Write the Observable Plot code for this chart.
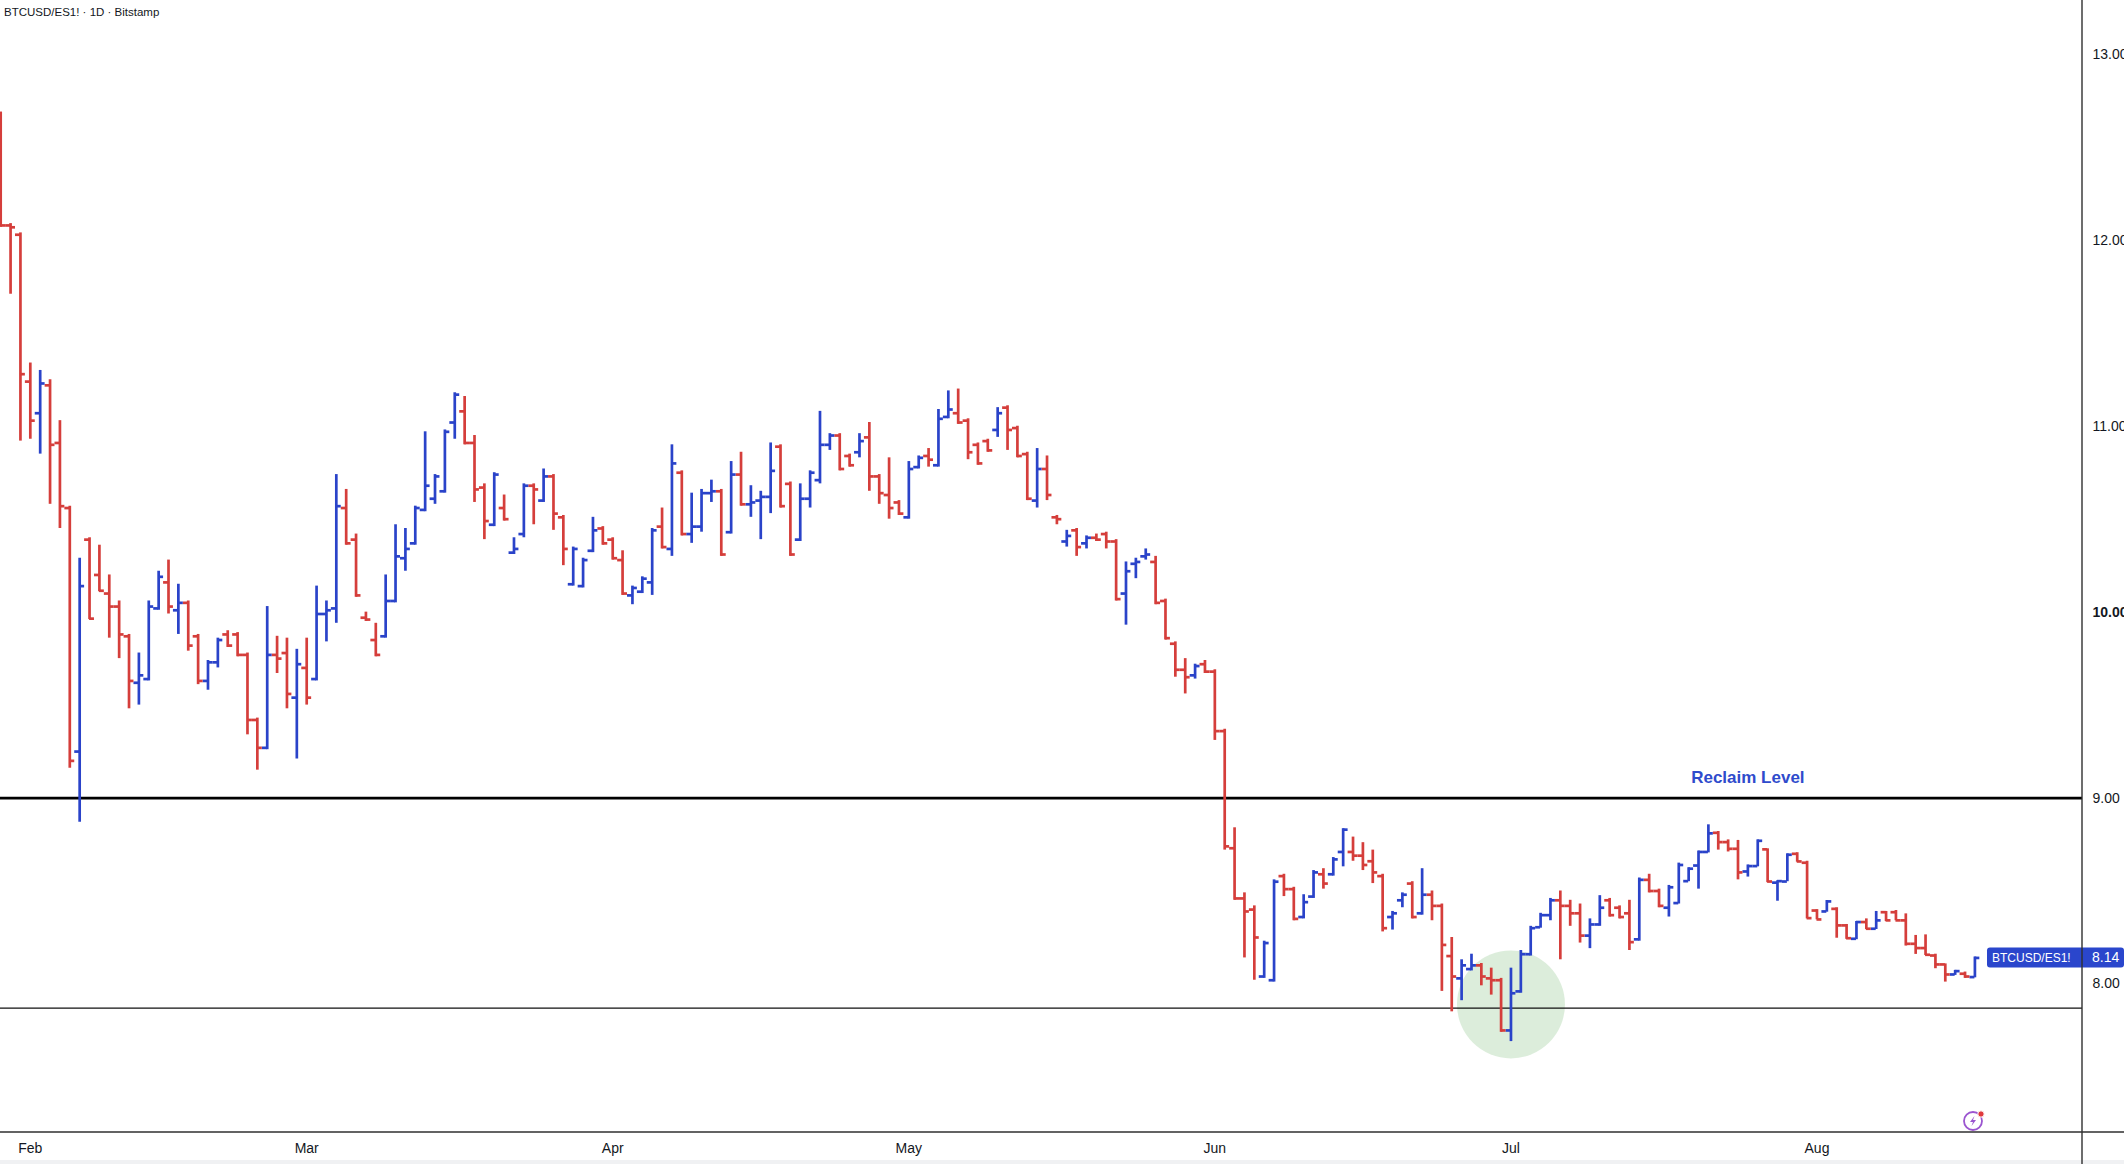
<!DOCTYPE html>
<html>
<head>
<meta charset="utf-8">
<script src="https://cdn.jsdelivr.net/npm/d3@7"></script>
<script src="https://cdn.jsdelivr.net/npm/@observablehq/plot@0.6"></script>
<style>
  html, body { margin: 0; padding: 0; background: #ffffff; }
  #wrap { position: relative; width: 2124px; height: 1164px; overflow: hidden; }
  #title { position: absolute; left: 4px; top: 6px; font: 11.5px "Liberation Sans", Arial, sans-serif; color: #131722; }
</style>
</head>
<body>
<div id="wrap">
  <div id="chart"></div>
  <div id="title">BTCUSD/ES1! · 1D · Bitstamp</div>
</div>
<script>
// ---- data (daily bars starting 29 Jan) ----
const firstBarDate = "2025-01-29";
const openValues = [
12.65,12.08,12.03,11.24,11.07,11.22,10.91,10.56,9.25,10.39,10.20,10.10,10.03,9.87,9.62,9.64,10.02,10.16,10.01,10.05,
9.87,9.63,9.73,9.88,9.88,9.77,9.42,9.27,9.77,9.78,9.54,9.70,9.64,9.99,10.02,10.56,10.39,9.97,9.85,9.87,
10.06,10.29,10.37,10.55,10.61,10.65,11.02,11.08,10.91,10.67,10.47,10.56,10.32,10.42,10.68,10.60,10.73,10.51,10.15,10.14,
10.33,10.45,10.39,10.28,10.09,10.11,10.16,10.46,10.34,10.75,10.42,10.46,10.64,10.65,10.43,10.74,10.58,10.60,10.62,10.89,
10.69,10.39,10.61,10.71,10.90,10.95,10.84,10.86,10.94,10.73,10.63,10.59,10.51,10.78,10.84,10.79,11.05,11.07,11.03,10.90,
10.92,10.98,11.10,10.99,10.85,10.60,10.77,10.51,10.38,10.44,10.37,10.40,10.42,10.38,10.10,10.26,10.30,10.27,10.06,9.83,
9.69,9.66,9.72,9.68,9.36,8.73,8.46,8.40,8.04,8.02,8.58,8.51,8.36,8.47,8.59,8.59,8.71,8.71,8.69,8.66,
8.58,8.36,8.45,8.54,8.38,8.48,8.42,8.15,8.03,8.08,8.10,8.03,8.02,7.75,7.96,8.16,8.305,8.37,8.45,8.42,
8.38,8.26,8.32,8.45,8.41,8.38,8.24,8.56,8.50,8.41,8.435,8.553,8.637,8.71,8.813,8.763,8.727,8.605,8.634,8.724,
8.545,8.551,8.70,8.652,8.395,8.39,8.404,8.315,8.243,8.333,8.297,8.386,8.386,8.342,8.216,8.193,8.153,8.105,8.051,8.055,
8.037];
const highValues = [
12.69,12.09,12.04,11.34,11.30,11.25,11.03,10.57,10.29,10.40,10.36,10.20,10.06,9.88,9.78,10.06,10.22,10.28,10.15,10.06,
9.88,9.74,9.86,9.90,9.89,9.78,9.43,10.03,9.87,9.86,9.80,9.86,10.14,10.06,10.74,10.66,10.42,10.00,9.94,10.20,
10.47,10.45,10.57,10.97,10.74,10.98,11.18,11.16,10.95,10.69,10.75,10.63,10.40,10.69,10.69,10.77,10.74,10.52,10.35,10.29,
10.51,10.46,10.40,10.33,10.14,10.19,10.45,10.56,10.90,10.76,10.64,10.66,10.71,10.66,10.81,10.86,10.68,10.65,10.91,10.90,
10.70,10.69,10.76,11.08,10.96,10.96,10.85,10.96,11.02,10.74,10.83,10.60,10.81,10.84,10.88,11.09,11.19,11.20,11.04,10.91,
10.93,11.10,11.11,11.00,10.86,10.88,10.84,10.52,10.44,10.45,10.41,10.42,10.43,10.39,10.27,10.29,10.34,10.30,10.07,9.84,
9.75,9.72,9.74,9.69,9.37,8.84,8.49,8.42,8.23,8.56,8.59,8.52,8.48,8.61,8.62,8.68,8.835,8.79,8.76,8.72,
8.59,8.39,8.49,8.55,8.62,8.50,8.43,8.25,8.13,8.16,8.11,8.085,8.03,8.085,8.18,8.31,8.38,8.46,8.50,8.45,
8.43,8.35,8.475,8.46,8.42,8.45,8.57,8.59,8.51,8.53,8.65,8.625,8.715,8.856,8.82,8.775,8.772,8.64,8.775,8.727,
8.555,8.70,8.706,8.66,8.40,8.449,8.41,8.32,8.336,8.35,8.39,8.39,8.395,8.377,8.261,8.264,8.16,8.108,8.073,8.064,
8.145];
const lowValues = [
12.07,11.71,10.92,10.93,10.85,10.58,10.45,9.16,8.87,9.96,10.11,9.86,9.75,9.48,9.50,9.63,10.01,9.99,9.88,9.79,
9.61,9.58,9.70,9.81,9.76,9.34,9.15,9.26,9.67,9.48,9.21,9.50,9.63,9.84,9.94,10.36,10.08,9.95,9.76,9.86,
10.05,10.22,10.36,10.54,10.58,10.64,10.93,10.90,10.59,10.39,10.46,10.49,10.31,10.40,10.47,10.59,10.44,10.25,10.14,10.13,
10.32,10.36,10.28,10.09,10.04,10.10,10.09,10.34,10.30,10.41,10.37,10.43,10.59,10.30,10.42,10.57,10.51,10.39,10.53,10.56,
10.30,10.38,10.56,10.69,10.87,10.76,10.78,10.83,10.65,10.58,10.50,10.52,10.50,10.77,10.78,10.78,11.04,11.01,10.82,10.79,
10.86,10.94,10.87,10.83,10.60,10.56,10.60,10.47,10.35,10.30,10.34,10.38,10.34,10.06,9.93,10.18,10.28,10.04,9.85,9.65,
9.56,9.64,9.67,9.31,8.72,8.45,8.14,8.02,8.03,8.01,8.47,8.34,8.35,8.46,8.51,8.58,8.63,8.66,8.61,8.54,
8.28,8.29,8.41,8.35,8.37,8.34,7.96,7.85,7.91,8.07,7.99,7.94,7.74,7.69,7.95,8.15,8.30,8.34,8.13,8.31,
8.22,8.19,8.31,8.36,8.35,8.18,8.23,8.49,8.41,8.36,8.43,8.55,8.51,8.705,8.72,8.71,8.56,8.575,8.63,8.545,
8.445,8.55,8.655,8.35,8.345,8.386,8.246,8.24,8.238,8.293,8.293,8.336,8.34,8.204,8.159,8.153,8.082,8.01,8.046,8.03,
8.033];
const closeValues = [
12.08,12.07,11.28,11.03,11.23,10.90,10.57,9.20,10.14,9.965,10.115,10.03,9.88,9.63,9.66,10.03,10.19,10.03,10.05,9.82,
9.63,9.73,9.85,9.82,9.77,9.42,9.27,9.77,9.75,9.56,9.72,9.54,9.99,10.01,10.57,10.37,10.09,9.96,9.77,10.06,
10.30,10.34,10.56,10.68,10.73,10.97,11.17,10.91,10.66,10.49,10.74,10.50,10.34,10.68,10.66,10.73,10.53,10.34,10.34,10.28,
10.44,10.37,10.29,10.10,10.13,10.18,10.44,10.35,10.80,10.42,10.46,10.64,10.65,10.31,10.74,10.58,10.59,10.62,10.76,10.57,
10.31,10.61,10.75,10.90,10.95,10.77,10.79,10.92,10.73,10.64,10.56,10.53,10.77,10.83,10.82,11.04,11.09,11.02,10.86,10.80,
10.87,11.07,10.98,10.84,10.61,10.77,10.63,10.50,10.41,10.35,10.40,10.39,10.38,10.07,10.22,10.27,10.31,10.05,9.86,9.69,
9.65,9.71,9.68,9.36,8.74,8.46,8.39,8.25,8.22,8.55,8.51,8.35,8.44,8.60,8.54,8.67,8.83,8.69,8.64,8.60,
8.30,8.38,8.48,8.36,8.48,8.42,8.21,8.04,8.10,8.10,8.04,8.02,7.75,7.95,8.16,8.30,8.37,8.45,8.42,8.38,
8.26,8.32,8.41,8.37,8.36,8.225,8.56,8.50,8.42,8.52,8.64,8.62,8.71,8.81,8.763,8.727,8.60,8.634,8.77,8.551,
8.553,8.695,8.659,8.354,8.347,8.444,8.315,8.246,8.333,8.297,8.342,8.342,8.342,8.216,8.193,8.157,8.105,8.051,8.069,8.04,
8.14];
const yTickValues = [8, 9, 10, 11, 12, 13];
const monthTicks = ["2025-02-01","2025-03-01","2025-04-01","2025-05-01","2025-06-01","2025-07-01","2025-08-01"];
const levelValues = [9.00, 7.87];
const levelLabel = { text: "Reclaim Level", date: "2025-07-25", value: 9.00 };
const highlight = { date: "2025-07-01", value: 7.89 };
const symbolName = "BTCUSD/ES1!";

// ---- build table ----
const DAY = 864e5;
const t0 = new Date(firstBarDate + "T00:00:00Z");
const bars = openValues.map((o, i) => ({
  date: d3.utcDay.offset(t0, i),
  open: o, high: highValues[i], low: lowValues[i], close: closeValues[i],
  up: closeValues[i] >= o
}));
const last = bars[bars.length - 1];

const UP = "#2a43c9", DOWN = "#d53e3b";
const col = d => d.up ? UP : DOWN;
const SW = 2.7;
const feb1 = new Date(monthTicks[0] + "T00:00:00Z");

const W = 2124, H = 1164, MR = 42, MB = 32;
const plot = Plot.plot({
  width: W, height: H,
  marginLeft: 0, marginRight: MR, marginTop: 0, marginBottom: MB,
  style: { fontFamily: "'Liberation Sans', Arial, sans-serif", fontSize: "14px", color: "#131722", background: "#ffffff" },
  x: { type: "utc", domain: [new Date(+feb1 - 3.02 * DAY), new Date(+feb1 + 207.9 * DAY)] },
  y: { domain: [7.201, 13.29] },
  marks: [
    Plot.dot([highlight], { x: d => new Date(d.date + "T00:00:00Z"), y: "value", r: 54, fill: "#5fae5a", fillOpacity: 0.22, stroke: "none" }),
    Plot.ruleY([levelValues[0]], { stroke: "#000000", strokeWidth: 2.7 }),
    Plot.ruleY([levelValues[1]], { stroke: "#111111", strokeWidth: 1.4 }),
    Plot.ruleX(bars, { x: "date", y1: "low", y2: "high", stroke: col, strokeWidth: SW, clip: true }),
    Plot.ruleY(bars, { x1: d => new Date(+d.date - 0.5 * DAY), x2: "date", y: "open", stroke: col, strokeWidth: SW, clip: true }),
    Plot.ruleY(bars, { x1: "date", x2: d => new Date(+d.date + 0.5 * DAY), y: "close", stroke: col, strokeWidth: SW, clip: true }),
    Plot.text([levelLabel], { x: d => new Date(d.date + "T00:00:00Z"), y: "value", text: "text", dy: -21, fill: "#2f4bcc", fontWeight: "bold", fontSize: 17 }),
    Plot.axisY({ anchor: "right", ticks: yTickValues, tickFormat: d3.format(".2f"), tickSize: 0, tickPadding: 10, label: null, fill: "#131722" }),
    Plot.axisX({ ticks: monthTicks.map(s => new Date(s + "T00:00:00Z")), tickFormat: d3.utcFormat("%b"), tickSize: 0, tickPadding: 11, label: null, fill: "#131722" })
  ]
});
document.getElementById("chart").appendChild(plot);

// ---- chrome: price tag, frame lines, icon ----
const svg = d3.select(plot);
const ys = plot.scale("y");
const yTag = ys.apply(last.close);

svg.selectAll('[aria-label="y-axis tick label"] text')
  .filter(function () { return this.textContent === "10.00"; })
  .attr("font-weight", "bold");

const tag = svg.append("g");
tag.append("rect").attr("x", 1987).attr("y", yTag - 10).attr("width", W - 1987).attr("height", 20).attr("rx", 3).attr("fill", "#2a46cc");
tag.append("text").attr("x", 1992).attr("y", yTag).attr("dy", "0.35em")
  .attr("fill", "#ffffff").attr("font-size", 12).attr("text-anchor", "start").text(symbolName);
tag.append("text").attr("x", W - MR + 10).attr("y", yTag).attr("dy", "0.35em")
  .attr("fill", "#ffffff").attr("font-size", 14).attr("text-anchor", "start").text(d3.format(".2f")(last.close));

svg.append("rect").attr("x", 0).attr("y", H - 4).attr("width", W).attr("height", 4).attr("fill", "#f0f1f3");
svg.append("line").attr("x1", 0).attr("x2", W).attr("y1", H - MB).attr("y2", H - MB).attr("stroke", "#2f2f2f").attr("stroke-width", 1.6);
svg.append("line").attr("x1", W - MR).attr("x2", W - MR).attr("y1", 0).attr("y2", H).attr("stroke", "#2f2f2f").attr("stroke-width", 1.4);

const icon = svg.append("g").attr("transform", "translate(1973,1121)");
icon.append("circle").attr("r", 9).attr("fill", "none").attr("stroke", "#9b55d0").attr("stroke-width", 1.8);
icon.append("path").attr("d", "M1.5,-5 L-3,1 L0,1 L-1.5,5 L3,-1 L0,-1 Z").attr("fill", "#9b55d0");
icon.append("circle").attr("cx", 8).attr("cy", -7).attr("r", 3.2).attr("fill", "#e0393e").attr("stroke", "#ffffff").attr("stroke-width", 1);
</script>
</body>
</html>
